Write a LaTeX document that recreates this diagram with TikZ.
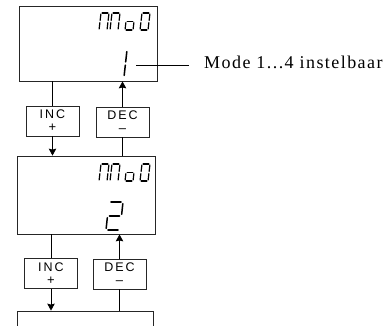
\documentclass[tikz,border=0pt]{standalone}
\usepackage{fontspec}
\setmainfont{Liberation Serif}
\newfontfamily\keyfont[LetterSpace=16]{Liberation Sans}
\newfontfamily\labelfont[LetterSpace=8]{Liberation Serif}
\usetikzlibrary{arrows.meta}

% seven-segment pieces, unit cell
\def\sega{(0.14,1) -- (0.86,1)}
\def\segb{(1,0.94) -- (1,0.56)}
\def\segc{(1,0.44) -- (1,0.06)}
\def\segd{(0.14,0) -- (0.86,0)}
\def\sege{(0,0.44) -- (0,0.06)}
\def\segf{(0,0.94) -- (0,0.56)}
\def\segg{(0.14,0.5) -- (0.86,0.5)}
% left, bottom, width, height, slant, segments
\newcommand{\segdigit}[6]{%
  \begin{scope}[shift={(#1,#2)}, x={(#3pt,0pt)}, y={(#5pt,#4pt)}]
    \foreach \s in {#6} {%
      \expandafter\let\expandafter\segpath\csname seg\s\endcsname
      \draw[seg] \segpath;}
  \end{scope}}
\newcommand{\keysign}[1]{{\fontsize{13}{13}\selectfont #1}}

\begin{document}
\begin{tikzpicture}[x=1pt, y=-1pt,
    disp/.style={draw=black!85, line width=0.8pt, minimum width=138pt, minimum height=75pt, inner sep=0pt},
    key/.style={draw=black!85, line width=0.8pt, minimum width=53pt, minimum height=30pt,
      inner sep=0pt, align=center, font=\keyfont\fontsize{12.5}{13}\selectfont},
    wire/.style={line width=0.9pt},
    arr/.style={wire, -{Stealth[length=7pt, width=7.5pt, inset=1pt]}},
    seg/.style={line width=1.2pt, line cap=round}]
\useasboundingbox (0,0) rectangle (388,325);

% displays
\node[disp] (disp1) at (88,43.5) {};
\node[disp, minimum height=78pt] (disp2) at (86,195) {};
\node[disp, minimum width=136pt] (disp3) at (85,348.5) {};

% keys
\node[key] (inc1) at (52.5,121) {INC\\\keysign{+}};
\node[key] (dec1) at (122.5,122) {DEC\\\keysign{–}};
\node[key] (inc2) at (51,273.5) {INC\\\keysign{+}};
\node[key] (dec2) at (119.5,274) {DEC\\\keysign{–}};

\draw[wire] (inc1.north) -- (inc1.north |- disp1.south);
\draw[arr] (inc1.south) -- (inc1.south |- disp2.north);
\draw[wire] (dec1.south) -- (dec1.south |- disp2.north);
\draw[arr] (dec1.north) -- (dec1.north |- disp1.south);
\draw[wire] (inc2.north) -- (inc2.north |- disp2.south);
\draw[arr] (inc2.south) -- (inc2.south |- disp3.north);
\draw[wire] (dec2.south) -- (dec2.south |- disp3.north);
\draw[arr] (dec2.north) -- (dec2.north |- disp2.south);

% mod readouts
\foreach \y in {30,181} {
  \segdigit{99}{\y}{8}{17}{2}{a,b,c,e,f}
  \segdigit{110}{\y}{8}{17}{2}{a,b,c,e,f}
  \segdigit{125}{\y}{8}{17}{2}{c,d,e,g}
  \segdigit{140}{\y}{8}{17}{2}{a,b,c,d,e,f}
}
\begin{scope}[seg/.append style={line width=1.5pt}]
  \segdigit{110}{77}{14}{27}{3}{b,c}
  \segdigit{106}{230}{14}{28}{3}{a,b,g,e,d}
\end{scope}

% label
\coordinate (one) at (136,65);
\node[font=\labelfont\fontsize{18}{20}\selectfont, anchor=west, inner sep=0pt] (modelabel) at (204,62) {Mode 1...4 instelbaar};
\draw[wire, shorten >=15pt] (one) -- (one -| modelabel.west);
\end{tikzpicture}
\end{document}
